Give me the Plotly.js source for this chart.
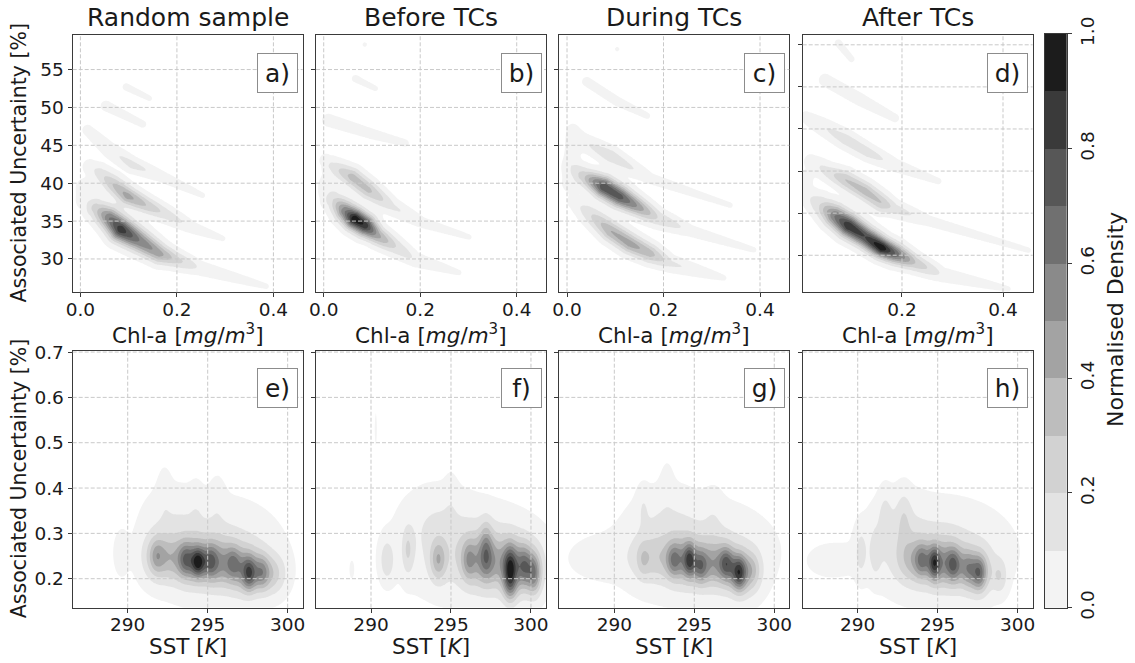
<!DOCTYPE html>
<html>
<head>
<meta charset="utf-8">
<script src="https://cdn.plot.ly/plotly-3.0.1.min.js"></script>
<style>html,body{margin:0;padding:0;background:#fff;}#chart{width:1135px;height:663px;}</style>
</head>
<body>
<div id="chart"></div>
<script>
// ---------------- DATA ----------------
const panelTitles = ['Random sample', 'Before TCs', 'During TCs', 'After TCs'];
const panelLetters = ['a)', 'b)', 'c)', 'd)', 'e)', 'f)', 'g)', 'h)'];
const chlLabel = 'Chl-a [<i>mg</i>/<i>m</i><sup>3</sup>]';
const sstLabel = 'SST [<i>K</i>]';
const yLabel = 'Associated Uncertainty [%]';
const cbarLabel = 'Normalised Density';

const chlTicks = [0, 0.2, 0.4];
const chlTickText = ['0.0', '0.2', '0.4'];
const uncChlTicks = [30, 35, 40, 45, 50, 55];
const sstTicks = [290, 295, 300];
const uncSstTicks = [0.2, 0.3, 0.4, 0.5, 0.6, 0.7];
const uncSstTickText = ['0.2', '0.3', '0.4', '0.5', '0.6', '0.7'];
const cbarTicks = [0, 0.2, 0.4, 0.6, 0.8, 1.0];
const cbarTickText = ['0.0', '0.2', '0.4', '0.6', '0.8', '1.0'];

// density levels and band colours (white = below lowest level)
const levels = [0, 0.1, 0.2, 0.3, 0.4, 0.5, 0.6, 0.7, 0.8, 0.9, 1.0];
const bandColors = ['#ffffff', '#f3f3f3', '#e3e3e3', '#d2d2d2', '#bdbdbd', '#a3a3a3',
                    '#8a8a8a', '#707070', '#575757', '#3a3a3a', '#1c1c1c'];

// Chl-a panels: density ridges, vertices [chl, uncertainty, density, half-width px]
const ridgesA = [
  [[0.010,37.6,0.06,6],[0.0325,36.7,0.25,7],[0.060,35.4,0.6,7.5],[0.084,33.9,0.88,8],[0.122,32.4,0.6,7.5],[0.164,30.7,0.45,6.5],[0.198,29.9,0.25,5.5],[0.247,28.8,0.08,4.5],[0.385,26.4,0.03,3]],
  [[0.020,42.2,0.06,5],[0.039,41.4,0.14,5.5],[0.067,39.9,0.3,6],[0.098,38.3,0.45,6],[0.136,37.1,0.3,5.5],[0.178,35.9,0.16,5],[0.233,34.1,0.06,4],[0.295,32.7,0.03,3]],
  [[0.015,47.0,0.04,4.5],[0.060,44.4,0.07,5],[0.108,42.4,0.14,4.5],[0.164,41.0,0.06,4],[0.253,38.4,0.03,3]],
  [[0.053,50.2,0.035,5],[0.129,47.8,0.03,4]],
  [[0.095,52.7,0.035,3.5],[0.143,51.2,0.03,3]],
  [[0.008,39.5,0.04,7]]
];
const ridgesB = [
  [[0.010,38.5,0.06,6],[0.021,37.8,0.2,6.5],[0.045,36.3,0.6,7],[0.064,35.3,1.0,7],[0.086,34.4,0.88,7],[0.111,33.1,0.45,6],[0.149,31.6,0.2,5.5],[0.190,29.9,0.08,4.5],[0.280,28.2,0.03,3]],
  [[0.005,43.0,0.05,5],[0.017,42.3,0.12,5.5],[0.059,40.8,0.35,6],[0.093,39.1,0.33,6],[0.142,36.9,0.12,5],[0.204,34.8,0.05,4],[0.301,32.9,0.03,3]],
  [[0.010,48.3,0.04,5.5],[0.100,46.5,0.035,5],[0.169,45.3,0.03,4]],
  [[0.066,53.8,0.035,3.5],[0.107,52.5,0.03,3]],
  [[0.085,58.3,0.03,2.5]],
  [[0.008,40.0,0.04,7]]
];
const ridgesC = [
  [[0.010,42.2,0.06,5],[0.034,41.0,0.25,6],[0.076,39.5,0.8,7],[0.110,38.2,0.75,7],[0.152,36.7,0.45,6],[0.187,35.4,0.2,5.5],[0.256,33.7,0.06,4],[0.387,31.2,0.03,3]],
  [[0.015,37.5,0.05,5],[0.041,36.3,0.15,6],[0.090,33.7,0.4,6.5],[0.131,32.0,0.45,6.5],[0.173,30.7,0.35,6],[0.214,29.4,0.12,5],[0.325,27.5,0.03,3]],
  [[0.028,45.7,0.07,5],[0.090,43.6,0.17,5.5],[0.173,40.6,0.05,4],[0.338,37.1,0.03,3]],
  [[0.041,53.4,0.035,4.5],[0.104,50.8,0.035,4.5],[0.166,48.9,0.03,3.5]],
  [[0.104,57.7,0.03,2.5]],
  [[0.008,40.0,0.045,7],[0.012,47.0,0.035,6]]
];
const ridgesD = [
  [[0.010,37.2,0.05,6],[0.038,36.0,0.2,7],[0.067,34.7,0.6,7.5],[0.094,33.5,0.9,7.5],[0.127,32.2,0.8,7],[0.160,30.9,1.0,6.5],[0.186,30.2,0.7,6.5],[0.226,29.1,0.3,5.5],[0.279,27.7,0.08,4.5],[0.410,26.0,0.03,3]],
  [[0.020,41.2,0.05,5],[0.054,39.9,0.15,5.5],[0.087,39.0,0.3,6],[0.127,37.6,0.35,6],[0.160,36.2,0.3,6],[0.186,35.5,0.15,5],[0.252,34.1,0.05,4],[0.450,30.6,0.03,3]],
  [[0.010,46.4,0.04,5],[0.087,43.8,0.15,5.5],[0.133,42.2,0.15,5],[0.186,40.7,0.06,4.5],[0.272,38.8,0.035,3]],
  [[0.048,50.8,0.045,5],[0.120,48.4,0.045,5],[0.186,46.3,0.035,4]],
  [[0.074,55.2,0.035,3.5],[0.100,53.3,0.03,3.5]],
  [[0.006,39.0,0.04,7]]
];

// SST panels: density blobs [sst, uncertainty, density, sigma sst, sigma unc]
const blobsE = [
  [295.5,0.26,0.14,2.3,0.065],[292.8,0.33,0.06,1.2,0.05],[292.3,0.39,0.04,0.3,0.04],[295.6,0.37,0.04,0.35,0.04],
  [294.3,0.36,0.03,0.3,0.04],[289.6,0.256,0.07,0.3,0.03],
  [292.0,0.248,0.3,0.7,0.035],[293.8,0.24,0.36,0.8,0.035],[295.6,0.235,0.35,0.8,0.035],[297.4,0.22,0.38,0.8,0.035],[299.0,0.21,0.22,0.6,0.03],
  [291.8,0.25,0.15,0.3,0.025],[293.6,0.242,0.25,0.3,0.025],[294.4,0.236,0.5,0.3,0.022],[295.2,0.238,0.25,0.3,0.025],
  [296.6,0.236,0.2,0.3,0.025],[297.6,0.21,0.4,0.3,0.025],[298.4,0.213,0.25,0.3,0.025]
];
const blobsF = [
  [295.8,0.26,0.13,2.4,0.065],[298.3,0.24,0.12,1.6,0.05],[294.0,0.33,0.06,1.3,0.05],[295.0,0.38,0.03,0.3,0.04],
  [297.0,0.24,0.25,0.9,0.04],[299.2,0.225,0.3,0.9,0.04],
  [291.0,0.241,0.17,0.3,0.03],[292.3,0.263,0.17,0.25,0.035],[294.2,0.241,0.3,0.35,0.03],[296.1,0.241,0.22,0.3,0.03],
  [297.2,0.25,0.25,0.3,0.035],[297.2,0.295,0.1,0.25,0.03],[298.7,0.222,0.5,0.3,0.035],[298.7,0.18,0.2,0.3,0.025],
  [299.6,0.228,0.3,0.3,0.03],[300.2,0.21,0.4,0.3,0.03],[290.3,0.53,0.03,0.08,0.04],[288.8,0.22,0.03,0.15,0.02]
];
const blobsG = [
  [295.0,0.26,0.13,2.8,0.065],[289.0,0.245,0.05,1.3,0.03],[293.2,0.33,0.06,1.2,0.05],[293.3,0.41,0.03,0.3,0.04],
  [291.8,0.36,0.06,0.25,0.03],[296.2,0.34,0.04,0.4,0.04],
  [292.2,0.245,0.17,0.8,0.035],[294.3,0.24,0.35,0.8,0.035],[296.3,0.232,0.35,0.8,0.035],[298.0,0.215,0.36,0.7,0.035],
  [291.8,0.241,0.1,0.25,0.025],[293.7,0.241,0.25,0.3,0.025],[294.7,0.241,0.4,0.25,0.025],[295.4,0.226,0.3,0.3,0.025],
  [297.0,0.234,0.35,0.3,0.025],[297.8,0.212,0.45,0.3,0.025],[298.7,0.219,0.1,0.3,0.025]
];
const blobsH = [
  [295.0,0.26,0.14,2.6,0.065],[288.2,0.24,0.05,1.0,0.025],[292.5,0.32,0.07,1.0,0.05],
  [290.2,0.258,0.12,0.25,0.035],[291.1,0.258,0.12,0.25,0.035],[291.7,0.33,0.1,0.25,0.04],[292.9,0.335,0.1,0.3,0.04],
  [293.6,0.24,0.26,0.8,0.035],[295.5,0.233,0.38,0.8,0.035],[297.4,0.216,0.3,0.7,0.035],
  [294.0,0.241,0.25,0.3,0.025],[294.8,0.234,0.45,0.25,0.025],[296.0,0.23,0.3,0.3,0.025],[296.9,0.223,0.2,0.3,0.025],
  [297.6,0.212,0.35,0.3,0.025],[298.9,0.205,0.15,0.3,0.025]
];

// ---------------- LAYOUT GEOMETRY ----------------
const W = 1135, H = 663;
const colDomains = [[0.06405,0.26670],[0.27841,0.48106],[0.49278,0.69542],[0.70722,0.90987]];
const rowDomains = [[0.55913,0.94766],[0.08341,0.47104]];
const chlRange = [-0.016, 0.4607], chlRangeD = [0.0034, 0.4588];
const uncChlRange = [25.6, 59.6], uncChlRangeD = [25.6, 56.2];
const sstRange = [286.56, 300.94], uncSstRange = [0.136, 0.703];
const FONT = 'DejaVu Sans';
const THR = 0.02;

function linspace(a, b, n) { const o = []; for (let i = 0; i < n; i++) o.push(a + (b - a) * i / (n - 1)); return o; }

function shade(d) {
  d = Math.min(d, 1);
  return d < 0.1 ? (d - THR) / (0.1 - THR) * 0.1 : d;
}

function ridgeGrid(ridges, xr, yr, xd, yd, n) {
  const kx = (xd[1] - xd[0]) * W / (xr[1] - xr[0]);
  const ky = (yd[1] - yd[0]) * H / (yr[1] - yr[0]);
  const xs = linspace(xr[0], xr[1], n), ys = linspace(yr[0], yr[1], n);
  const z = [];
  for (const y of ys) {
    const row = [];
    const py = y * ky;
    for (const x of xs) {
      const px = x * kx;
      let tot = 0;
      for (const r of ridges) {
        let best = 0;
        if (r.length === 1) {
          const v = r[0];
          const dx = px - v[0] * kx, dy = py - v[1] * ky;
          best = v[2] * Math.exp(-(dx * dx + dy * dy) / (2 * v[3] * v[3]));
        }
        for (let i = 0; i < r.length - 1; i++) {
          const a = r[i], b = r[i + 1];
          const ax = a[0] * kx, ay = a[1] * ky, bx = b[0] * kx, by = b[1] * ky;
          const ex = bx - ax, ey = by - ay;
          let t = ((px - ax) * ex + (py - ay) * ey) / (ex * ex + ey * ey);
          t = Math.max(0, Math.min(1, t));
          const cx = ax + t * ex, cy = ay + t * ey;
          const dd = (px - cx) * (px - cx) + (py - cy) * (py - cy);
          const amp = a[2] + t * (b[2] - a[2]);
          const w = a[3] + t * (b[3] - a[3]);
          const v = amp * Math.exp(-dd / (2 * w * w));
          if (v > best) best = v;
        }
        tot += best;
      }
      row.push(shade(tot));
    }
    z.push(row);
  }
  return {x: xs, y: ys, z: z};
}

function blobGrid(blobs, xr, yr, n) {
  const xs = linspace(xr[0], xr[1], n), ys = linspace(yr[0], yr[1], n);
  const z = [];
  for (const y of ys) {
    const row = [];
    for (const x of xs) {
      let tot = 0;
      for (const b of blobs) {
        const u = (x - b[0]) / b[3], v = (y - b[1]) / b[4];
        tot += b[2] * Math.exp(-0.5 * (u * u + v * v));
      }
      row.push(shade(tot));
    }
    z.push(row);
  }
  return {x: xs, y: ys, z: z};
}

const contourScale = bandColors.map((c, k) => [k / 11, c]).concat([[1, bandColors[10]]]);

const panels = [
  {kind: 'r', data: ridgesA, xr: chlRange, yr: uncChlRange, col: 0, row: 0},
  {kind: 'r', data: ridgesB, xr: chlRange, yr: uncChlRange, col: 1, row: 0},
  {kind: 'r', data: ridgesC, xr: chlRange, yr: uncChlRange, col: 2, row: 0},
  {kind: 'r', data: ridgesD, xr: chlRangeD, yr: uncChlRangeD, col: 3, row: 0},
  {kind: 'b', data: blobsE, xr: sstRange, yr: uncSstRange, col: 0, row: 1},
  {kind: 'b', data: blobsF, xr: sstRange, yr: uncSstRange, col: 1, row: 1},
  {kind: 'b', data: blobsG, xr: sstRange, yr: uncSstRange, col: 2, row: 1},
  {kind: 'b', data: blobsH, xr: sstRange, yr: uncSstRange, col: 3, row: 1}
];

const traces = [], layout = {
  width: W, height: H, margin: {l: 0, r: 0, t: 0, b: 0},
  paper_bgcolor: '#fff', plot_bgcolor: '#fff', showlegend: false,
  font: {family: FONT, color: '#1a1a1a'},
  shapes: [], annotations: []
};

const axisCommon = {
  showgrid: false, zeroline: false, showline: true, mirror: true, linecolor: '#3a3a3a', linewidth: 1.1,
  ticks: 'outside', ticklen: 4, tickwidth: 1, tickcolor: '#3a3a3a', layer: 'above traces',
  tickfont: {family: FONT, size: 18.5, color: '#1a1a1a'}, fixedrange: true
};

panels.forEach((p, i) => {
  const n = i + 1;
  const xd = colDomains[p.col], yd = rowDomains[p.row];
  const g = p.kind === 'r' ? ridgeGrid(p.data, p.xr, p.yr, xd, yd, 170) : blobGrid(p.data, p.xr, p.yr, 170);
  traces.push({
    type: 'contour', x: g.x, y: g.y, z: g.z, xaxis: 'x' + n, yaxis: 'y' + n,
    contours: {start: levels[0], end: levels[levels.length - 1], size: 0.1, coloring: 'fill', showlines: false},
    line: {width: 0, smoothing: 0}, colorscale: contourScale, showscale: false, hoverinfo: 'skip'
  });
  const top = p.row === 0;
  const xt = top ? chlTicks : sstTicks;
  const yt = top ? uncChlTicks : uncSstTicks;
  layout['xaxis' + n] = Object.assign({}, axisCommon, {
    domain: xd, range: p.xr, anchor: 'y' + n, tickvals: xt, ticklabelstandoff: -4,
    ticktext: top ? chlTickText : xt.map(String)
  });
  layout['yaxis' + n] = Object.assign({}, axisCommon, {
    domain: yd, range: p.yr, anchor: 'x' + n, tickvals: yt,
    ticktext: top ? yt.map(String) : uncSstTickText, showticklabels: p.col === 0
  });
  // dashed grid drawn above the filled contours (as in the reference)
  xt.forEach(v => {
    if (v > p.xr[0] && v < p.xr[1]) layout.shapes.push({type: 'line', xref: 'x' + n, yref: 'y' + n + ' domain',
      x0: v, x1: v, y0: 0, y1: 1, layer: 'above', line: {color: '#c9c9c9', width: 1, dash: '4px,2px'}});
  });
  yt.forEach(v => {
    if (v > p.yr[0] && v < p.yr[1]) layout.shapes.push({type: 'line', xref: 'x' + n + ' domain', yref: 'y' + n,
      x0: 0, x1: 1, y0: v, y1: v, layer: 'above', line: {color: '#c9c9c9', width: 1, dash: '4px,2px'}});
  });
  // panel letter box
  layout.annotations.push({
    xref: 'x' + n + ' domain', yref: 'y' + n + ' domain', x: 0.981, y: top ? 0.930 : 0.934,
    xanchor: 'right', yanchor: 'top', text: panelLetters[i], showarrow: false,
    font: {family: FONT, size: 25, color: '#1a1a1a'}, bgcolor: '#fff', bordercolor: '#8c8c8c',
    borderwidth: 1, borderpad: 3, width: 33, height: 32, align: 'center', valign: 'middle'
  });
  // x label
  layout.annotations.push({
    xref: 'paper', yref: 'paper', x: (xd[0] + xd[1]) / 2, y: top ? 1 - 334 / H : 1 - 646 / H,
    xanchor: 'center', yanchor: 'middle', text: top ? chlLabel : sstLabel, showarrow: false,
    font: {family: FONT, size: 21.5, color: '#1a1a1a'}
  });
});

// column titles
panelTitles.forEach((t, c) => {
  layout.annotations.push({
    xref: 'paper', yref: 'paper', x: (colDomains[c][0] + colDomains[c][1]) / 2, y: 1 - 17 / H,
    xanchor: 'center', yanchor: 'middle', text: t, showarrow: false,
    font: {family: FONT, size: 25, color: '#1a1a1a'}
  });
});
// y labels
rowDomains.forEach(d => {
  layout.annotations.push({
    xref: 'paper', yref: 'paper', x: 19 / W, y: (d[0] + d[1]) / 2, xanchor: 'center', yanchor: 'middle',
    text: yLabel, textangle: -90, showarrow: false, font: {family: FONT, size: 20.5, color: '#1a1a1a'}
  });
});

// colour bar as a heatmap of the band colours
const cbarCenters = levels.slice(0, 10).map(v => v + 0.05);
const cbarScale = [];
for (let k = 1; k <= 10; k++) { cbarScale.push([(k - 1) / 10, bandColors[k]]); cbarScale.push([k / 10, bandColors[k]]); }
traces.push({
  type: 'heatmap', x: [0], y: cbarCenters, z: cbarCenters.map((v, k) => [k + 1]),
  zmin: 0.5, zmax: 10.5, colorscale: cbarScale, showscale: false, xaxis: 'x9', yaxis: 'y9', hoverinfo: 'skip'
});
layout.xaxis9 = {domain: [0.92070, 0.93982], range: [-0.5, 0.5], anchor: 'y9', showticklabels: false, ticks: '',
  showgrid: false, zeroline: false, showline: true, mirror: true, linecolor: '#3a3a3a', linewidth: 1.1, fixedrange: true};
layout.yaxis9 = Object.assign({}, axisCommon, {domain: [0.08341, 0.94872], range: [0, 1], anchor: 'x9', side: 'right',
  tickvals: cbarTicks, ticktext: cbarTickText, tickangle: -90, mirror: true});
layout.annotations.push({
  xref: 'paper', yref: 'paper', x: 1115 / W, y: 1 - 320 / H, xanchor: 'center', yanchor: 'middle',
  text: cbarLabel, textangle: -90, showarrow: false, font: {family: FONT, size: 22, color: '#1a1a1a'}
});

Plotly.newPlot('chart', traces, layout, {staticPlot: true, displayModeBar: false});
</script>
</body>
</html>
